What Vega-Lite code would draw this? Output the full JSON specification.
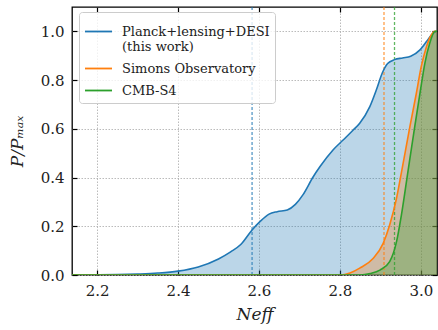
{
  "$schema": "https://vega.github.io/schema/vega-lite/v6.json",
  "width": 365,
  "height": 268,
  "autosize": "none",
  "padding": {"left": 72, "top": 7, "right": 1, "bottom": 55},
  "background": "white",
  "config": {
    "view": {"stroke": "black", "strokeWidth": 1.3},
    "font": "DejaVu Serif",
    "axis": {
      "labelFont": "DejaVu Serif",
      "labelFontSize": 15,
      "labelColor": "#222",
      "titleFont": "DejaVu Serif",
      "titleFontSize": 17,
      "titleFontWeight": "normal",
      "titleFontStyle": "italic",
      "titleColor": "#222",
      "domain": false,
      "tickColor": "black",
      "tickWidth": 1.2,
      "tickSize": -5,
      "gridColor": "#aaaaaa",
      "gridDash": [1.5, 1.5],
      "gridWidth": 0.8
    },
    "legend": {"labelFont": "DejaVu Serif"}
  },
  "datasets": {
    "curves": [
      {"s": "Planck+lensing+DESI (this work)", "x": 2.138, "y": 0.0},
      {"s": "Planck+lensing+DESI (this work)", "x": 2.2, "y": 0.0005},
      {"s": "Planck+lensing+DESI (this work)", "x": 2.25, "y": 0.0015},
      {"s": "Planck+lensing+DESI (this work)", "x": 2.3, "y": 0.004},
      {"s": "Planck+lensing+DESI (this work)", "x": 2.35, "y": 0.008},
      {"s": "Planck+lensing+DESI (this work)", "x": 2.4, "y": 0.016},
      {"s": "Planck+lensing+DESI (this work)", "x": 2.45, "y": 0.033},
      {"s": "Planck+lensing+DESI (this work)", "x": 2.5, "y": 0.066},
      {"s": "Planck+lensing+DESI (this work)", "x": 2.53, "y": 0.095},
      {"s": "Planck+lensing+DESI (this work)", "x": 2.555, "y": 0.125},
      {"s": "Planck+lensing+DESI (this work)", "x": 2.583, "y": 0.185},
      {"s": "Planck+lensing+DESI (this work)", "x": 2.603, "y": 0.22},
      {"s": "Planck+lensing+DESI (this work)", "x": 2.625, "y": 0.25},
      {"s": "Planck+lensing+DESI (this work)", "x": 2.645, "y": 0.26},
      {"s": "Planck+lensing+DESI (this work)", "x": 2.67, "y": 0.267},
      {"s": "Planck+lensing+DESI (this work)", "x": 2.69, "y": 0.29},
      {"s": "Planck+lensing+DESI (this work)", "x": 2.709, "y": 0.33},
      {"s": "Planck+lensing+DESI (this work)", "x": 2.733, "y": 0.40},
      {"s": "Planck+lensing+DESI (this work)", "x": 2.751, "y": 0.445},
      {"s": "Planck+lensing+DESI (this work)", "x": 2.783, "y": 0.513},
      {"s": "Planck+lensing+DESI (this work)", "x": 2.808, "y": 0.554},
      {"s": "Planck+lensing+DESI (this work)", "x": 2.833, "y": 0.595},
      {"s": "Planck+lensing+DESI (this work)", "x": 2.849, "y": 0.623},
      {"s": "Planck+lensing+DESI (this work)", "x": 2.874, "y": 0.691},
      {"s": "Planck+lensing+DESI (this work)", "x": 2.89, "y": 0.759},
      {"s": "Planck+lensing+DESI (this work)", "x": 2.905, "y": 0.830},
      {"s": "Planck+lensing+DESI (this work)", "x": 2.918, "y": 0.868},
      {"s": "Planck+lensing+DESI (this work)", "x": 2.935, "y": 0.884},
      {"s": "Planck+lensing+DESI (this work)", "x": 2.955, "y": 0.891},
      {"s": "Planck+lensing+DESI (this work)", "x": 2.975, "y": 0.898},
      {"s": "Planck+lensing+DESI (this work)", "x": 2.998, "y": 0.924},
      {"s": "Planck+lensing+DESI (this work)", "x": 3.014, "y": 0.958},
      {"s": "Planck+lensing+DESI (this work)", "x": 3.03, "y": 0.992},
      {"s": "Planck+lensing+DESI (this work)", "x": 3.04, "y": 1.0},
      {"s": "Simons Observatory", "x": 2.138, "y": 0.0},
      {"s": "Simons Observatory", "x": 2.8, "y": 0.0},
      {"s": "Simons Observatory", "x": 2.825, "y": 0.008},
      {"s": "Simons Observatory", "x": 2.849, "y": 0.028},
      {"s": "Simons Observatory", "x": 2.882, "y": 0.068},
      {"s": "Simons Observatory", "x": 2.907, "y": 0.13},
      {"s": "Simons Observatory", "x": 2.923, "y": 0.205},
      {"s": "Simons Observatory", "x": 2.94, "y": 0.315},
      {"s": "Simons Observatory", "x": 2.952, "y": 0.42},
      {"s": "Simons Observatory", "x": 2.973, "y": 0.609},
      {"s": "Simons Observatory", "x": 2.989, "y": 0.746},
      {"s": "Simons Observatory", "x": 3.001, "y": 0.855},
      {"s": "Simons Observatory", "x": 3.014, "y": 0.937},
      {"s": "Simons Observatory", "x": 3.026, "y": 0.985},
      {"s": "Simons Observatory", "x": 3.035, "y": 1.0},
      {"s": "Simons Observatory", "x": 3.04, "y": 0.998},
      {"s": "CMB-S4", "x": 2.138, "y": 0.0},
      {"s": "CMB-S4", "x": 2.85, "y": 0.0},
      {"s": "CMB-S4", "x": 2.875, "y": 0.006},
      {"s": "CMB-S4", "x": 2.899, "y": 0.02},
      {"s": "CMB-S4", "x": 2.923, "y": 0.055},
      {"s": "CMB-S4", "x": 2.94, "y": 0.137},
      {"s": "CMB-S4", "x": 2.952, "y": 0.246},
      {"s": "CMB-S4", "x": 2.966, "y": 0.4},
      {"s": "CMB-S4", "x": 2.985, "y": 0.609},
      {"s": "CMB-S4", "x": 2.998, "y": 0.746},
      {"s": "CMB-S4", "x": 3.01, "y": 0.869},
      {"s": "CMB-S4", "x": 3.022, "y": 0.951},
      {"s": "CMB-S4", "x": 3.035, "y": 1.0},
      {"s": "CMB-S4", "x": 3.04, "y": 1.0}
    ],
    "marks": [
      {"m": "planck", "v": 2.583},
      {"m": "so", "v": 2.909},
      {"m": "s4", "v": 2.935}
    ]
  },
  "layer": [
    {
      "data": {"name": "curves"},
      "transform": [{"filter": "datum.s == 'Planck+lensing+DESI (this work)'"}],
      "mark": {"type": "area", "interpolate": "monotone", "color": "#1f77b4", "opacity": 0.3, "clip": true},
      "encoding": {
        "x": {"field": "x", "type": "quantitative", "scale": {"domain": [2.138, 3.04], "nice": false, "zero": false},
              "axis": {"orient": "bottom", "values": [2.2, 2.4, 2.6, 2.8, 3.0], "format": ".1f", "title": "Neff", "labelPadding": 13, "titlePadding": 8, "grid": true}},
        "y": {"field": "y", "type": "quantitative", "stack": null, "scale": {"domain": [0, 1.1], "nice": false},
              "axis": {"orient": "left", "values": [0, 0.2, 0.4, 0.6, 0.8, 1.0], "format": ".1f", "title": "P/Pₘₐₓ", "labelPadding": 13, "titlePadding": 14, "grid": true}}
      }
    },
    {
      "data": {"name": "curves"},
      "transform": [{"filter": "datum.s == 'Simons Observatory'"}],
      "mark": {"type": "area", "interpolate": "monotone", "color": "#ff7f0e", "opacity": 0.3, "clip": true},
      "encoding": {
        "x": {"field": "x", "type": "quantitative", "axis": null},
        "y": {"field": "y", "type": "quantitative", "stack": null, "axis": null}
      }
    },
    {
      "data": {"name": "curves"},
      "transform": [{"filter": "datum.s == 'CMB-S4'"}],
      "mark": {"type": "area", "interpolate": "monotone", "color": "#2ca02c", "opacity": 0.3, "clip": true},
      "encoding": {
        "x": {"field": "x", "type": "quantitative", "axis": null},
        "y": {"field": "y", "type": "quantitative", "stack": null, "axis": null}
      }
    },
    {
      "data": {"name": "marks"},
      "mark": {"type": "rule", "strokeDash": [3, 2], "strokeWidth": 1.3, "opacity": 0.75},
      "encoding": {
        "x": {"field": "v", "type": "quantitative", "axis": null},
        "stroke": {"field": "m", "type": "nominal",
                   "scale": {"domain": ["planck", "so", "s4"], "range": ["#1f77b4", "#ff7f0e", "#2ca02c"]},
                   "legend": null}
      }
    },
    {
      "data": {"name": "curves"},
      "mark": {"type": "line", "interpolate": "monotone", "strokeWidth": 1.6, "clip": true},
      "encoding": {
        "x": {"field": "x", "type": "quantitative",
              "axis": {"orient": "top", "values": [2.2, 2.4, 2.6, 2.8, 3.0], "labels": false, "title": null, "grid": false}},
        "y": {"field": "y", "type": "quantitative",
              "axis": {"orient": "right", "values": [0, 0.2, 0.4, 0.6, 0.8, 1.0], "labels": false, "title": null, "grid": false}},
        "color": {"field": "s", "type": "nominal",
                  "scale": {"domain": ["Planck+lensing+DESI (this work)", "Simons Observatory", "CMB-S4"], "range": ["#1f77b4", "#ff7f0e", "#2ca02c"]},
                  "legend": {"orient": "none", "legendX": 7, "legendY": 5, "title": null,
                             "symbolType": "stroke", "symbolSize": 729, "symbolStrokeWidth": 1.8,
                             "labelFont": "DejaVu Serif", "labelFontSize": 13, "labelColor": "#222",
                             "labelExpr": "datum.value == 'Planck+lensing+DESI (this work)' ? ['Planck+lensing+DESI', '(this work)'] : datum.label",
                             "fillColor": "rgba(255,255,255,0.8)", "strokeColor": "#cccccc", "cornerRadius": 3, "padding": 5, "rowPadding": 0, "labelOffset": 9}}
      }
    }
  ],
  "resolve": {"axis": {"x": "independent", "y": "independent"}}
}
